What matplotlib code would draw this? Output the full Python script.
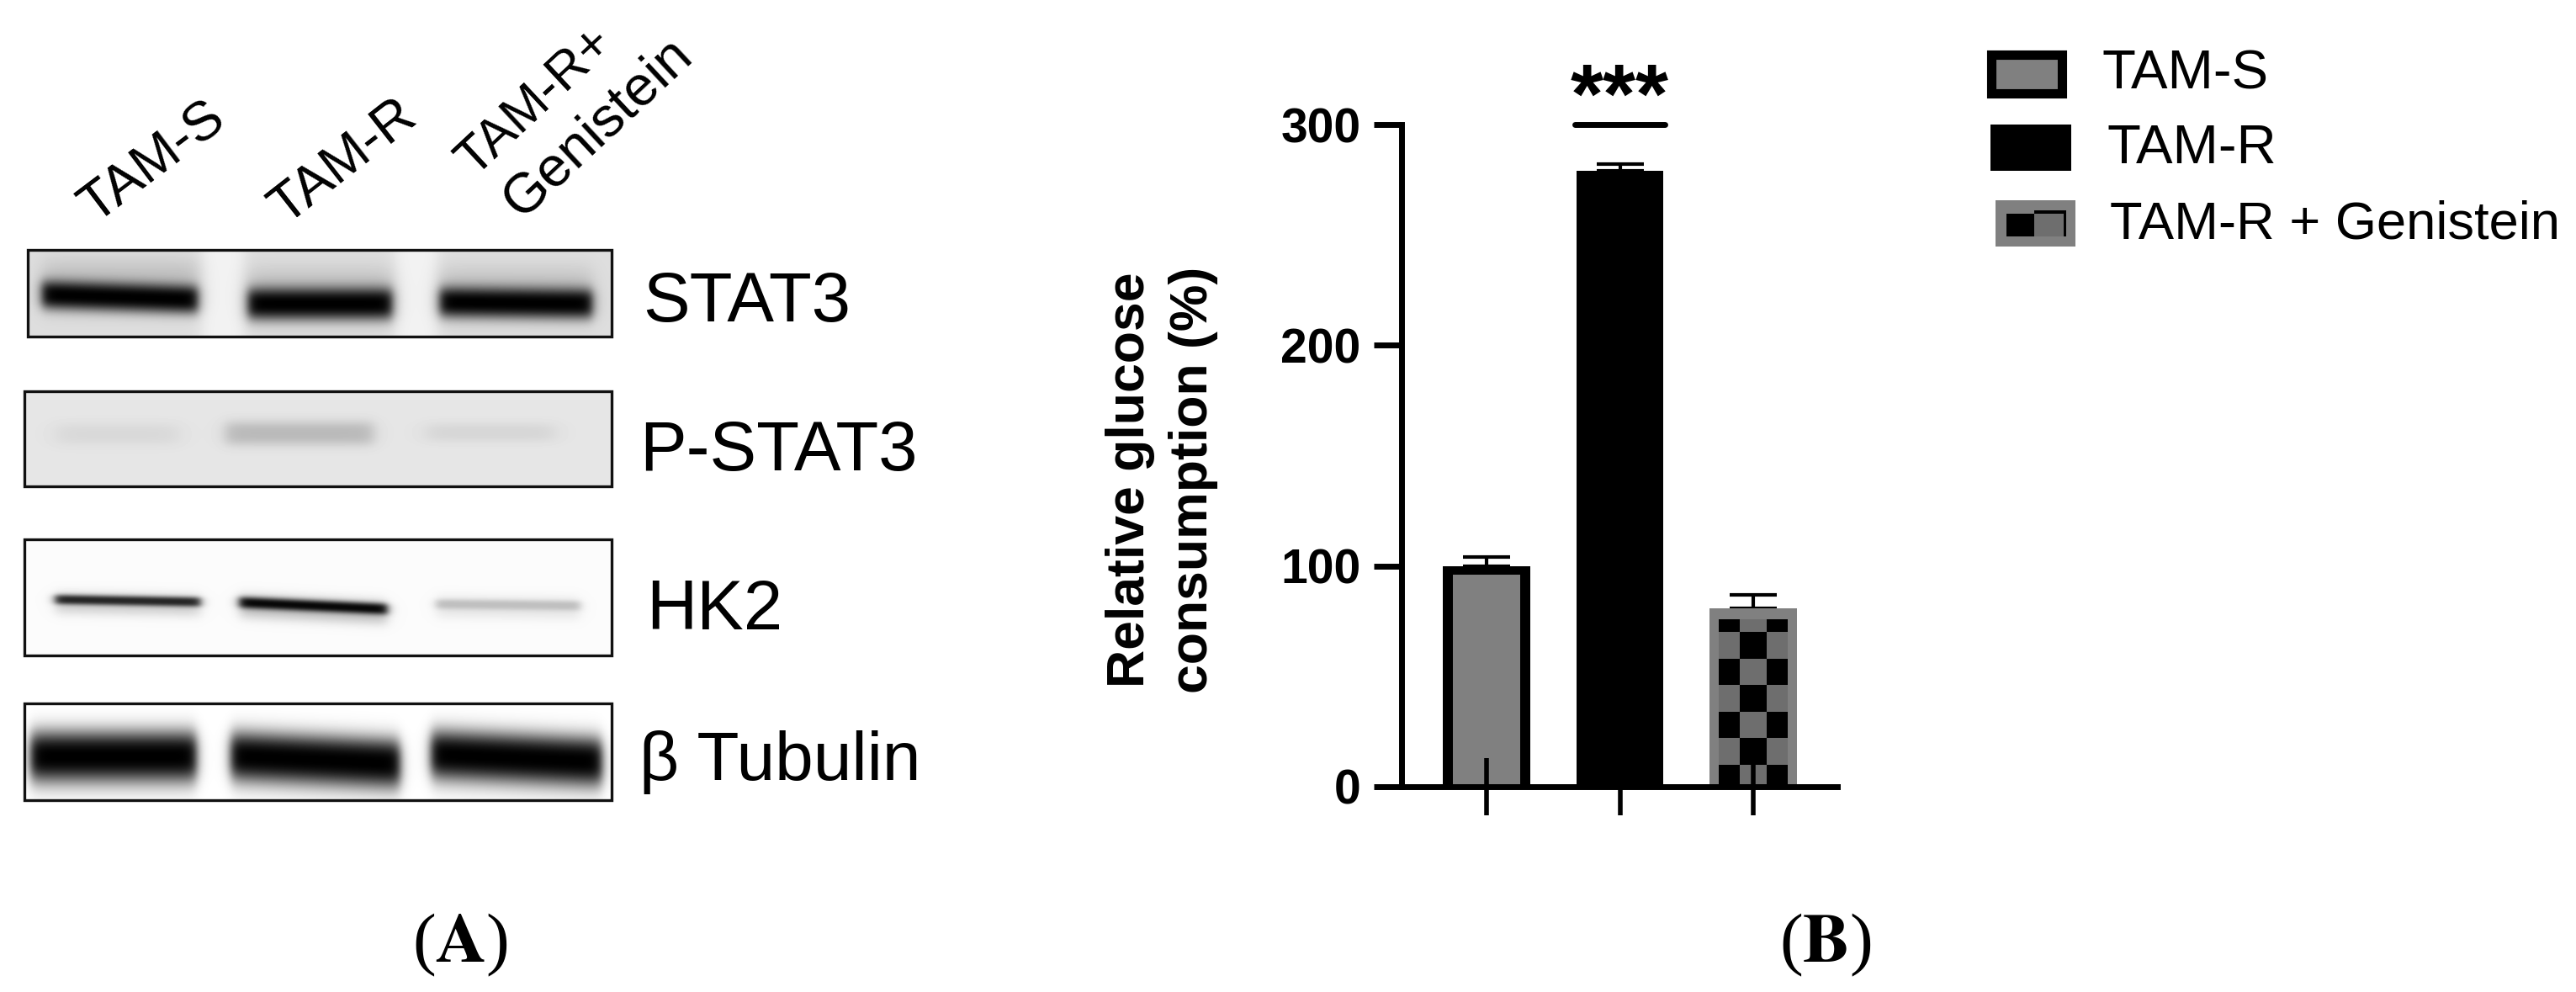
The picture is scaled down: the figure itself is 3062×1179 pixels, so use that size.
import numpy as np
import matplotlib
matplotlib.use("Agg")
import matplotlib.pyplot as plt
from matplotlib.patches import Rectangle

# ---- data -------------------------------------------------------------
groups = ["TAM-S", "TAM-R", "TAM-R + Genistein"]
values = [100, 279, 81]
err_up = [4, 3, 6]
y_ticks = [0, 100, 200, 300]
y_label = "Relative glucose\nconsumption (%)"
checker_rows = [0, 10, 22, 34, 46, 58, 70, 76]
blot_names = ["STAT3", "P-STAT3", "HK2", "β Tubulin"]
blot_lane_labels = ["TAM-S", "TAM-R", "TAM-R+", "Genistein"]

W, H = 3062, 1179
DPI = 100
plt.rcParams["font.family"] = ["Liberation Sans", "DejaVu Sans"]
fig = plt.figure(figsize=(W / DPI, H / DPI), dpi=DPI, facecolor="white")

ov = fig.add_axes([0, 0, 1, 1], zorder=0)
ov.set_xlim(0, W)
ov.set_ylim(H, 0)
ov.axis("off")


def blot(box, bg, bands, gaps=()):
    x0, x1, y0, y1 = box
    xs = np.arange(x0, x1) + 0.5
    ys = np.arange(y0, y1) + 0.5
    X, Y = np.meshgrid(xs, ys)
    img = np.full(X.shape, float(bg))
    for gx0, gx1, level in gaps:
        m = 0.5 * (np.tanh((X - gx0) / 10) - np.tanh((X - gx1) / 10))
        img = img + (level - bg) * m
    for bx0, bx1, yc, half, val, tilt, soft in bands:
        xm = 0.5 * (np.tanh((X - bx0) / soft) - np.tanh((X - bx1) / soft))
        c = yc + tilt * (X - (bx0 + bx1) / 2) / (bx1 - bx0)
        ym = np.exp(-np.abs((Y - c) / half) ** 2.6)
        a = np.clip(xm * ym, 0, 1)
        img = img * (1 - a) + val * a
    ov.imshow(img, cmap="gray", vmin=0, vmax=1, extent=(x0, x1, y1, y0),
              aspect="auto", zorder=1, interpolation="bilinear")
    ov.add_patch(Rectangle((x0, y0), x1 - x0, y1 - y0, fill=False,
                           ec="#111111", lw=2.4, zorder=2))


blot((33, 727, 297, 400), 0.87,
     [(50, 235, 340, 32, 0.74, 0, 12), (295, 466, 350, 32, 0.74, 0, 12),
      (523, 704, 350, 32, 0.74, 0, 12),
      (50, 235, 353, 17, 0.0, 6, 7), (295, 466, 361, 19, 0.0, 0, 7),
      (523, 704, 360, 18, 0.0, 2, 7)],
     [(240, 290, 0.95), (470, 520, 0.95)])
blot((29, 727, 465, 578), 0.90,
     [(66, 213, 516, 14, 0.85, 0, 14), (268, 444, 515, 15, 0.73, 0, 10),
      (506, 660, 514, 12, 0.84, 0, 14)])
blot((29, 727, 641, 779), 0.985,
     [(66, 238, 718, 14, 0.82, 3, 8), (285, 460, 724, 15, 0.75, 8, 8),
      (519, 689, 722, 14, 0.9, 2, 8),
      (66, 238, 714, 6, 0.15, 3, 6), (285, 460, 720, 7, 0.03, 8, 6),
      (519, 689, 719, 6, 0.75, 2, 6)])
blot((29, 727, 836, 951), 1.0,
     [(37, 233, 902, 37, 0.72, 0, 8), (275, 475, 906, 36, 0.72, 9, 8),
      (513, 715, 904, 36, 0.72, 9, 8),
      (37, 233, 899, 28, 0.0, 0, 7), (275, 475, 903, 27, 0.0, 9, 7),
      (513, 715, 901, 27, 0.0, 9, 7)])

for label, cx, cy, rot, fs in zip(blot_lane_labels, [182, 408, 636, 711],
                                  [193, 193, 121, 152], [37, 38, 43, 43],
                                  [47, 47, 45, 48]):
    ov.text(cx, cy, label, rotation=rot, fontsize=fs, ha="center", va="center",
            rotation_mode="anchor")

for name, x, y, fs in zip(blot_names, [764, 760, 768, 760], [360, 537, 726, 906],
                          [60, 60, 60, 59]):
    ov.text(x, y, name, fontsize=fs, ha="left", va="center")

ov.text(547, 1123, r"($\mathbf{A}$)", fontsize=60, ha="center", va="center",
        family="Liberation Serif", math_fontfamily="stix")
ov.text(2170, 1123, r"($\mathbf{B}$)", fontsize=60, ha="center", va="center",
        family="Liberation Serif", math_fontfamily="stix")

# legend
ov.add_patch(Rectangle((2367, 65), 84, 46, fc="#808080", ec="black", lw=8))
ov.add_patch(Rectangle((2366, 148), 96, 55, fc="black", ec="black", lw=0))
ov.add_patch(Rectangle((2372, 238), 95, 55, fc="#808080", ec="none"))
ov.add_patch(Rectangle((2418, 250), 36, 31, fc="#6e6e6e", ec="none"))
ov.add_patch(Rectangle((2385, 254), 33, 27, fc="black", ec="none"))
ov.add_patch(Rectangle((2418, 250), 36, 4, fc="black", ec="none"))
ov.add_patch(Rectangle((2453, 250), 3, 31, fc="black", ec="none"))
for name, x, y, fs in zip(groups, [2498, 2504, 2508], [89, 177, 267], [47, 47, 45.5]):
    ov.text(x, y, name, fontsize=fs, ha="left", va="center")

# panel B
L, R, T, B = 1666, 2184, 148, 935
ax = fig.add_axes([L / W, 1 - B / H, (R - L) / W, (B - T) / H], zorder=2)
ax.patch.set_alpha(0)
x = np.arange(len(groups))
ax.set_xlim((L - 1767) / 158.5, (R - 1767) / 158.5)
ax.set_ylim(y_ticks[0], y_ticks[-1])

ax.bar(x[0], values[0], width=0.65, fc="black", ec="none", zorder=2)
ax.bar(x[0], values[0] - 4, width=0.51, fc="#808080", ec="none", zorder=2.05)
ax.bar(x[1], values[1], width=0.65, fc="black", ec="black", lw=0, zorder=2)
ax.bar(x[2], values[2], width=0.65, fc="#808080", ec="none", zorder=2)
# chequered fill of the third bar
col_edges = [x[2] - 0.26, x[2] - 0.1, x[2] + 0.1, x[2] + 0.26]
ax.add_patch(Rectangle((col_edges[0], 0), col_edges[3] - col_edges[0], checker_rows[-1],
                       fc="#6e6e6e", ec="none", zorder=2.1))
for i in range(len(checker_rows) - 1):
    cols = [0, 2] if i % 2 == 0 else [1]
    for c in cols:
        ax.add_patch(Rectangle((col_edges[c], checker_rows[i]),
                               col_edges[c + 1] - col_edges[c],
                               checker_rows[i + 1] - checker_rows[i],
                               fc="black", ec="none", zorder=2.2))
ax.errorbar(x, values, yerr=[[0] * 3, err_up], fmt="none", ecolor="black",
            elinewidth=3, capsize=20, capthick=3, zorder=1)

for s in ("top", "right"):
    ax.spines[s].set_visible(False)
for s in ("left", "bottom"):
    ax.spines[s].set_linewidth(5)
ax.set_axisbelow(False)
ax.set_xticks(x)
ax.set_xticklabels([])
ax.tick_params(axis="x", direction="inout", length=49, width=4)
ax.set_yticks(y_ticks)
ax.tick_params(axis="y", direction="out", length=24, width=5, pad=11)
for t in ax.get_yticklabels():
    t.set_fontsize(41)
    t.set_fontweight("bold")

ov.text(1381, 570, y_label, rotation=90, fontsize=45, fontweight="bold",
        ha="center", va="center", linespacing=1.33, multialignment="center")

# significance
ax.plot([0.66, 1.34], [300, 300], color="black", lw=5, solid_capstyle="round",
        clip_on=False)
ax.text(1, 293, "***", fontsize=72, fontweight="bold", ha="center", va="bottom",
        clip_on=False)

fig.savefig("out.png", dpi=DPI, facecolor="white")
